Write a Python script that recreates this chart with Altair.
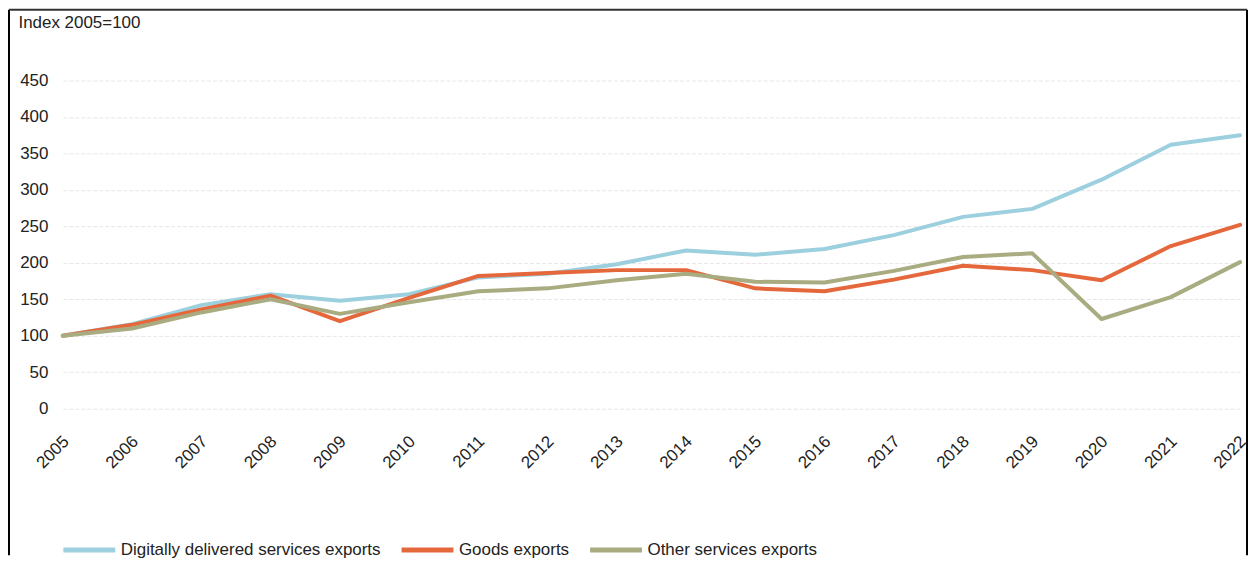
import altair as alt
import pandas as pd

years = list(range(2005, 2023))
digital = [100, 116, 142, 157, 148, 157, 180, 185, 198, 217, 211, 219, 238, 263, 274, 314, 362, 375]
goods = [100, 115, 136, 155, 120, 152, 182, 186, 190, 190, 165, 161, 177, 196, 190, 176, 223, 252]
other = [100, 110, 132, 150, 130, 146, 161, 165, 176, 185, 174, 173, 189, 208, 213, 123, 153, 201]

series_names = ["Digitally delivered services exports", "Goods exports", "Other services exports"]
series_colors = ["#9dd0df", "#e5683c", "#a8ac80"]
y_ticks = [0, 50, 100, 150, 200, 250, 300, 350, 400, 450]

rows = []
for name, vals in zip(series_names, [digital, goods, other]):
    for yr, v in zip(years, vals):
        rows.append({"Year": str(yr), "Series": name, "Value": v})
df = pd.DataFrame(rows)

FONT = "Liberation Sans"

lines = alt.Chart(df).mark_line(strokeWidth=4, strokeCap="round", strokeJoin="round").encode(
    x=alt.X("Year:O", scale=alt.Scale(type="point", padding=0),
            axis=alt.Axis(title=None, labelAngle=-45, labelAlign="right", labelBaseline="middle",
                          domain=False, ticks=False, grid=False,
                          labelFontSize=17, labelPadding=30, labelOffset=3, labelColor="#222")),
    y=alt.Y("Value:Q", scale=alt.Scale(domain=[0, 450], nice=False),
            axis=alt.Axis(values=y_ticks, title="Index 2005=100", titleAngle=0, titleAlign="left",
                          titleBaseline="middle", titleX=-45, titleY=-58, titleFontSize=17,
                          titleFontWeight="normal", titleColor="#222",
                          domain=False, ticks=False, labelFontSize=17, labelPadding=15,
                          labelColor="#222", gridColor="#e6e6e6", gridDash=[4, 2])),
    color=alt.Color("Series:N", scale=alt.Scale(domain=series_names, range=series_colors),
                    legend=alt.Legend(title=None, orient="none", legendX=-2, legendY=442,
                                      direction="horizontal", symbolType="stroke",
                                      symbolSize=2700, symbolStrokeWidth=5, labelFontSize=17,
                                      labelOffset=3, columnPadding=10, labelColor="#222",
                                      labelLimit=400)),
)

frame_df = pd.DataFrame({"k": [0]})
frame = alt.Chart(frame_df)
left = frame.mark_rule(color="black", strokeWidth=2, clip=False).encode(
    x=alt.value(-54), y=alt.value(-71), y2=alt.value(476))
right = frame.mark_rule(color="black", strokeWidth=2, clip=False).encode(
    x=alt.value(1187), y=alt.value(-71), y2=alt.value(476))
top = frame.mark_rule(color="#333", strokeWidth=2, clip=False).encode(
    x=alt.value(-54), x2=alt.value(1187), y=alt.value(-71))

chart = alt.layer(lines, left, right, top).properties(
    width=1180, height=329, padding={"left": 0, "top": 0, "right": 0, "bottom": 0}
).configure(font=FONT).configure_view(stroke=None)

chart.save("out.html", embed_options={"renderer": "svg", "actions": False})
